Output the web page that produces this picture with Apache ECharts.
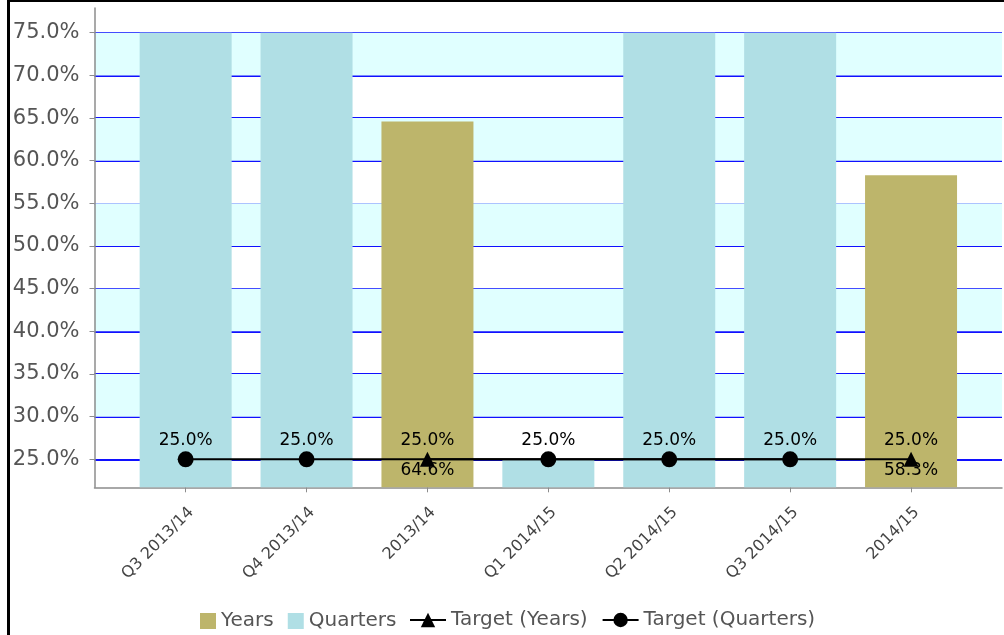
<!DOCTYPE html>
<html>
<head>
<meta charset="utf-8">
<script src="https://cdn.jsdelivr.net/npm/echarts@6/dist/echarts.min.js"></script>
<style>
  html, body { margin: 0; padding: 0; background: #fff; }
  #chart { width: 1004px; height: 635px; }
</style>
</head>
<body>
<div id="chart"></div>
<script>
// Categories along the x axis
const categories = ['Q3 2013/14', 'Q4 2013/14', '2013/14', 'Q1 2014/15', 'Q2 2014/15', 'Q3 2014/15', '2014/15'];
// Bar values (%)
const yearsValues = [null, null, 64.6, null, null, null, 58.3];
const quartersValues = [75.0, 75.0, null, 25.0, 75.0, 75.0, null];
// Target lines (%)
const targetYears = [null, null, 25.0, null, null, null, 25.0];
const targetQuarters = [25.0, 25.0, null, 25.0, 25.0, 25.0, null];
// Value range of the y axis and the shaded bands
const yMin = 21.72;
const yMax = 77.9;
const shadedBands = [[30, 35], [40, 45], [50, 55], [60, 65], [70, 75]];

const FONT = 'DejaVu Sans';
const pct = v => v.toFixed(1) + '%';

const chart = echarts.init(document.getElementById('chart'), null, { renderer: 'canvas' });

const plotTop = 8;
const plotBottom = 147.7;

chart.setOption({
  animation: false,
  backgroundColor: '#ffffff',
  grid: [
    // full plot area: y axis, gridlines, bands, bottom axis line
    { left: 94.5, right: 2, top: plotTop, bottom: plotBottom, outerBoundsMode: 'none', containLabel: false },
    // category area, inset so bars sit on the category centres
    { left: 125.2, right: 32.5, top: plotTop, bottom: plotBottom, outerBoundsMode: 'none', containLabel: false }
  ],
  xAxis: [
    {
      gridIndex: 0, type: 'value', min: 0, max: 1, z: 1,
      axisLine: { show: true, lineStyle: { color: '#8c8c8c', width: 1.5 } },
      axisTick: { show: false }, axisLabel: { show: false }, splitLine: { show: false }
    },
    {
      gridIndex: 1, type: 'category', data: categories, boundaryGap: true,
      axisLine: { show: false },
      axisTick: { show: true, alignWithLabel: true, length: 5, lineStyle: { color: '#8c8c8c' } },
      axisLabel: {
        rotate: 45, margin: 17, interval: 0, verticalAlign: 'top',
        color: '#444', fontFamily: FONT, fontSize: 16
      },
      splitLine: { show: false }
    }
  ],
  yAxis: [
    {
      gridIndex: 0, type: 'value', min: yMin, max: yMax, splitNumber: 11, z: 1,
      axisLine: { show: true, lineStyle: { color: '#8c8c8c', width: 1.5 } },
      axisTick: { show: true, length: 5, lineStyle: { color: '#8c8c8c' } },
      axisLabel: {
        showMinLabel: false, showMaxLabel: false,
        formatter: v => (Math.abs(v % 5) < 1e-6 ? pct(v) : ''),
        color: '#555', fontFamily: FONT, fontSize: 21, margin: 15
      },
      splitLine: { show: true, showMinLine: false, showMaxLine: false, lineStyle: { color: '#1010ff', width: 2 } },
      splitArea: { show: false }
    },
    {
      gridIndex: 1, type: 'value', min: yMin, max: yMax, show: false,
      splitLine: { show: false }
    }
  ],
  legend: [
    {
      data: ['Years', 'Quarters'],
      left: 200, top: 611, padding: 0,
      itemWidth: 16, itemHeight: 16, itemGap: 14,
      icon: 'rect',
      textStyle: { color: '#555', fontFamily: FONT, fontSize: 20 }
    },
    {
      data: ['Target (Years)', 'Target (Quarters)'],
      left: 409, top: 610, padding: 0,
      itemWidth: 36, itemHeight: 18, itemGap: 14,
      textStyle: { color: '#555', fontFamily: FONT, fontSize: 20 }
    }
  ],
  series: [
    {
      // carries the light cyan bands behind the gridlines
      type: 'line', xAxisIndex: 0, yAxisIndex: 0, data: [], z: 0, silent: true,
      markArea: {
        silent: true,
        itemStyle: { color: '#e0ffff', borderWidth: 0 },
        data: shadedBands.map(b => [{ yAxis: b[0] }, { yAxis: b[1] }])
      }
    },
    {
      name: 'Years', type: 'bar', xAxisIndex: 1, yAxisIndex: 1, z: 2,
      data: yearsValues, barWidth: 92, barGap: '-100%',
      itemStyle: { color: '#bdb56b' },
      label: {
        show: true, position: 'insideBottom', distance: 8,
        formatter: p => pct(p.value),
        color: '#000', fontFamily: FONT, fontSize: 17
      }
    },
    {
      name: 'Quarters', type: 'bar', xAxisIndex: 1, yAxisIndex: 1, z: 2,
      data: quartersValues, barWidth: 92, barGap: '-100%',
      itemStyle: { color: '#b0dfe5' }
    },
    {
      name: 'Target (Years)', type: 'line', xAxisIndex: 1, yAxisIndex: 1,
      data: targetYears, connectNulls: true, z: 5,
      symbol: 'triangle', symbolSize: 15,
      lineStyle: { color: '#000', width: 2 },
      itemStyle: { color: '#000' },
      label: {
        show: true, position: 'top', distance: 3,
        formatter: p => pct(p.value),
        color: '#000', fontFamily: FONT, fontSize: 17
      }
    },
    {
      name: 'Target (Quarters)', type: 'line', xAxisIndex: 1, yAxisIndex: 1,
      data: targetQuarters, connectNulls: true, z: 5,
      symbol: 'circle', symbolSize: 16,
      lineStyle: { color: '#000', width: 2 },
      itemStyle: { color: '#000' },
      label: {
        show: true, position: 'top', distance: 2,
        formatter: p => pct(p.value),
        color: '#000', fontFamily: FONT, fontSize: 17
      }
    }
  ],
  graphic: [
    { type: 'line', shape: { x1: 8.5, y1: 0, x2: 8.5, y2: 635 }, style: { stroke: '#000', lineWidth: 3 }, z: 100 },
    { type: 'line', shape: { x1: 7, y1: 1, x2: 1004, y2: 1 }, style: { stroke: '#000', lineWidth: 2 }, z: 100 }
  ]
});
</script>
</body>
</html>
